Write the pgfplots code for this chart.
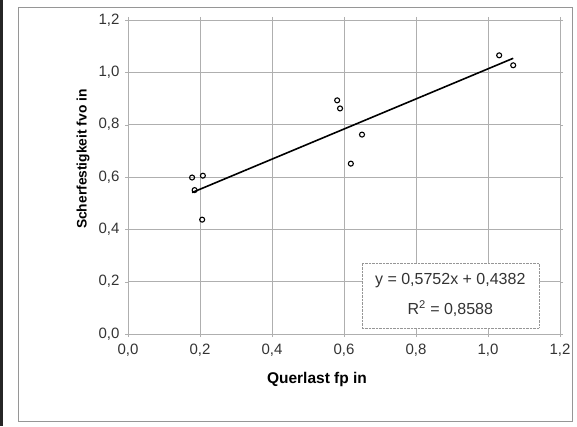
\documentclass[border=0pt]{standalone}
\usepackage{pgfplots}
\pgfplotsset{compat=1.18}
\usepackage{fontspec}
\setmainfont{Liberation Sans}
\definecolor{gridgray}{RGB}{175,175,175}
\definecolor{framegray}{RGB}{150,150,150}
\begin{document}
\begin{tikzpicture}[x=1pt,y=1pt]
\path[use as bounding box] (0,0) rectangle (577,426);
\fill[black!85] (0,0) rectangle (3,426);
\draw[framegray, line width=0.8pt] (18,5) rectangle (572,419);
\begin{axis}[
  at={(128pt,92pt)}, anchor=south west,
  scale only axis, width=432pt, height=314pt,
  xmin=0, xmax=1.2, ymin=0, ymax=1.2,
  xtick={0,0.2,...,1.2}, ytick={0,0.2,...,1.2},
  grid=major,
  major grid style={gridgray, line width=0.6pt},
  axis line style={gridgray, line width=0.8pt},
  tick style={gridgray},
  tick align=outside, major tick length=3pt,
  ticklabel style={font=\fontsize{15}{17}\selectfont, text=black!80},
  /pgf/number format/.cd, use comma, fixed, fixed zerofill, precision=1, assume math mode=true,
  /pgfplots/.cd,
  xticklabel style={yshift=-3pt},
  yticklabel style={xshift=-2pt},
  xlabel={\bfseries Querlast fp in},
  ylabel={\bfseries Scherfestigkeit fvo in},
  xlabel style={font=\fontsize{15.5}{17}\selectfont, at={(axis description cs:0.4375,-0.145)}, anchor=center},
  ylabel style={font=\fontsize{13.8}{15}\selectfont, at={(axis description cs:-0.104,0.557)}, anchor=center},
  clip=false,
]
\addplot[only marks, mark=o, mark size=2.5pt, mark options={black, line width=1.1pt}]
coordinates {
(0.178,0.598) (0.208,0.605) (0.206,0.437) (0.185,0.550)
(0.581,0.893) (0.589,0.862) (0.650,0.762) (0.619,0.651)
(1.031,1.065) (1.070,1.027)
};
\addplot[black, line width=1.6pt] coordinates {(0.178,0.5406) (1.070,1.0537)};
\node[draw=framegray, densely dotted, fill=white, minimum width=177pt, minimum height=65pt,
  align=center, font=\fontsize{16}{30}\selectfont, text=black!80, inner sep=0pt]
  at (rel axis cs:0.746,0.123)
  {y = 0,5752x + 0,4382\\R\textsuperscript{2} = 0,8588};
\end{axis}
\end{tikzpicture}
\end{document}
